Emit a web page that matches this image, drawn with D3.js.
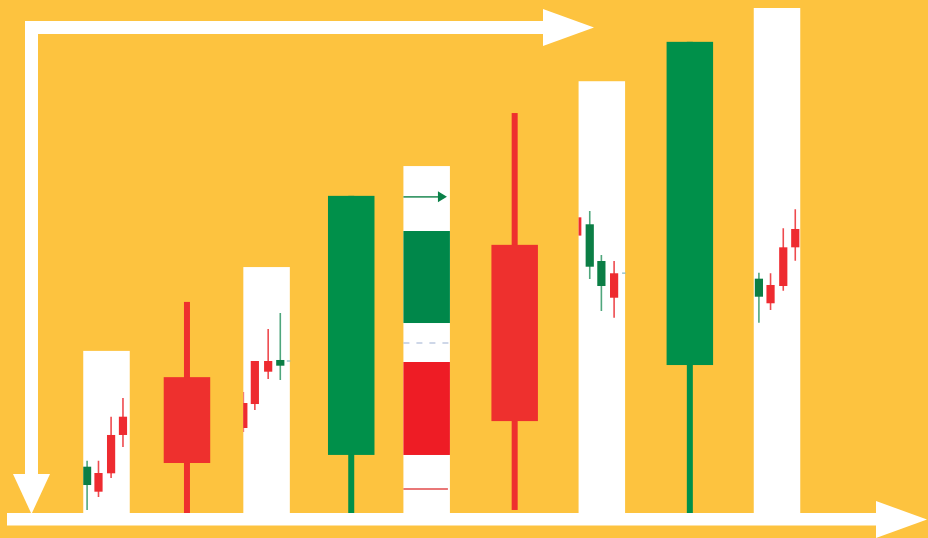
<!DOCTYPE html>
<html>
<head>
<meta charset="utf-8">
<script src="https://cdn.jsdelivr.net/npm/d3@7/dist/d3.min.js"></script>
<style>
  html, body { margin: 0; padding: 0; background: #FDC33F; }
  svg { display: block; }
</style>
</head>
<body>
<script>
// ---------- DATA ----------
// Big candles (period index on x, price units on y)
const candlePeriods = [0.96, 2.92, 4.87, 6.96];
const candleOpen    = [26.9, 11.5, 53.1, 29.3];
const candleClose   = [9.9, 62.8, 18.2, 93.3];
const candleHigh    = [41.8, 62.8, 79.2, 93.3];
const candleLow     = [0, 0, 0.6, 0];

// White "zoom windows"
const windowPeriods = [0, 1.91, 3.82, 5.91, 8];
const windowTops    = [32.1, 48.7, 68.7, 85.5, 100];

// Mini candles inside windows (window index, slot, open, close, high, low)
const miniWindow = [0, 0, 0, 0,   1, 1, 1, 1,   3, 3, 3, 3,   4, 4, 4, 4];
const miniSlot   = [0.32, 1.27, 2.32, 3.31,   0.0, 0.96, 2.07, 3.08,   -0.11, 0.93, 1.9, 2.96,   0.43, 1.4, 2.46, 3.46];
const miniOpen   = [5.54, 7.92, 15.45, 19.07,  21.78, 30.1, 30.1, 29.17,  58.55, 48.77, 44.95, 47.47,  42.83, 45.15, 52.61, 56.24];
const miniClose  = [9.17, 4.22, 7.86, 15.45,   16.83, 21.58, 27.98, 30.3,  54.93, 57.17, 49.9, 42.63,   46.4, 41.53, 44.95, 52.61];
const miniHigh   = [10.36, 10.36, 19.07, 22.77, 23.96, 30.1, 36.44, 39.6,  58.55, 59.8, 51.09, 49.9,    47.58, 47.47, 56.38, 60.14];
const miniLow    = [0.59, 3.17, 6.93, 13.07,   16.04, 20.4, 26.53, 26.34,  54.93, 46.34, 40.0, 38.67,   37.68, 40.2, 44.02, 49.96];

// Last-price markers in windows (window index, level)
const markerWindow = [1, 3];
const markerLevel  = [30.1, 47.5];

// Legend window (index 2) content levels
const legendArrowLevel = 62.6;
const legendUpZone     = [37.62, 55.84];
const legendMidLevel   = 33.66;
const legendDownZone   = [11.49, 29.9];
const legendLowLevel   = 4.75;

// ---------- STYLE ----------
const W = 928, H = 538;
const BG = "#FDC33F";
const UP = "#00904A", DOWN = "#EE302E";
const MINI_UP = "#0B7E45", MINI_DOWN = "#EE2B30";
const MINI_UP_WICK = "#4FA67C", MINI_DOWN_WICK = "#EE4A4E";

const svg = d3.select("body").append("svg")
  .attr("width", W).attr("height", H);

svg.append("rect").attr("width", W).attr("height", H).attr("fill", BG);

const x = d3.scaleLinear().domain([0, 8]).range([106.5, 777]);
const y = d3.scaleLinear().domain([0, 100]).range([513, 8]);
const barW = 46.5;
const mini = d3.scaleLinear().domain([0, 1]).range([0, 12]);
const miniW = 8.2;

// ---------- WINDOWS ----------
const defs = svg.append("defs");
windowPeriods.forEach((p, i) => {
  defs.append("clipPath").attr("id", "clip" + i)
    .append("rect")
    .attr("x", x(p) - barW / 2).attr("y", y(windowTops[i]))
    .attr("width", barW).attr("height", y(0) - y(windowTops[i]));
});

svg.append("g").selectAll("rect")
  .data(windowPeriods)
  .join("rect")
  .attr("x", d => x(d) - barW / 2)
  .attr("y", (d, i) => y(windowTops[i]))
  .attr("width", barW)
  .attr("height", (d, i) => y(0) - y(windowTops[i]))
  .attr("fill", "#FFFFFF");

// mini candles
const minis = miniWindow.map((w, i) => ({
  w, s: miniSlot[i], o: miniOpen[i], c: miniClose[i], h: miniHigh[i], l: miniLow[i]
}));
const miniG = svg.append("g");
minis.forEach(d => {
  const left = x(windowPeriods[d.w]) - barW / 2;
  const cx = left + mini(d.s);
  const up = d.c >= d.o;
  const g = miniG.append("g").attr("clip-path", `url(#clip${d.w})`);
  g.append("line")
    .attr("x1", cx).attr("x2", cx)
    .attr("y1", y(d.h)).attr("y2", y(d.l))
    .attr("stroke", up ? MINI_UP_WICK : MINI_DOWN_WICK)
    .attr("stroke-width", 1.6);
  g.append("rect")
    .attr("x", cx - miniW / 2)
    .attr("y", y(Math.max(d.o, d.c)))
    .attr("width", miniW)
    .attr("height", Math.max(1, y(Math.min(d.o, d.c)) - y(Math.max(d.o, d.c))))
    .attr("fill", up ? MINI_UP : MINI_DOWN);
});

// last price markers
markerWindow.forEach((w, i) => {
  const right = x(windowPeriods[w]) + barW / 2;
  svg.append("line")
    .attr("x1", right - 3).attr("x2", right + 0.5)
    .attr("y1", y(markerLevel[i])).attr("y2", y(markerLevel[i]))
    .attr("stroke", "#7FB7C4").attr("stroke-width", 1.2);
});

// legend window content
{
  const left = x(windowPeriods[2]) - barW / 2;
  const right = left + barW;
  const ay = y(legendArrowLevel);
  svg.append("line")
    .attr("x1", left).attr("x2", right - 10)
    .attr("y1", ay).attr("y2", ay)
    .attr("stroke", "#3E9A6B").attr("stroke-width", 1.6);
  svg.append("path")
    .attr("d", `M${right - 12},${ay - 5.5} L${right - 3},${ay} L${right - 12},${ay + 5.5} Z`)
    .attr("fill", "#0A8048");

  svg.append("rect")
    .attr("x", left).attr("width", barW)
    .attr("y", y(legendUpZone[1]))
    .attr("height", y(legendUpZone[0]) - y(legendUpZone[1]))
    .attr("fill", "#00874A");

  svg.append("line")
    .attr("x1", left).attr("x2", right)
    .attr("y1", y(legendMidLevel)).attr("y2", y(legendMidLevel))
    .attr("stroke", "#9DB0D2").attr("stroke-width", 1.2)
    .attr("stroke-dasharray", "6,7");

  svg.append("rect")
    .attr("x", left).attr("width", barW)
    .attr("y", y(legendDownZone[1]))
    .attr("height", y(legendDownZone[0]) - y(legendDownZone[1]))
    .attr("fill", "#EE1C25");

  svg.append("line")
    .attr("x1", left).attr("x2", right - 2)
    .attr("y1", y(legendLowLevel)).attr("y2", y(legendLowLevel))
    .attr("stroke", "#E24A4A").attr("stroke-width", 1.6);
}

// ---------- BIG CANDLES ----------
const candles = candlePeriods.map((p, i) => ({
  p, o: candleOpen[i], c: candleClose[i], h: candleHigh[i], l: candleLow[i]
}));
const cg = svg.append("g").selectAll("g").data(candles).join("g");
cg.append("rect")
  .attr("x", d => x(d.p) - 3)
  .attr("y", d => y(d.h))
  .attr("width", 6)
  .attr("height", d => y(d.l) - y(d.h))
  .attr("fill", d => d.c >= d.o ? UP : DOWN);
cg.append("rect")
  .attr("x", d => x(d.p) - barW / 2)
  .attr("y", d => y(Math.max(d.o, d.c)))
  .attr("width", barW)
  .attr("height", d => y(Math.min(d.o, d.c)) - y(Math.max(d.o, d.c)))
  .attr("fill", d => d.c >= d.o ? UP : DOWN);

// ---------- AXIS ARROWS ----------
const ax = svg.append("g").attr("fill", "#FFFFFF");
// top-left L arrow (vertical down + horizontal right)
ax.append("rect").attr("x", 25).attr("y", 21).attr("width", 13).attr("height", 455);
ax.append("path").attr("d", "M13,474 L50,474 L31.5,514 Z");
ax.append("rect").attr("x", 25).attr("y", 21).attr("width", 520).attr("height", 13);
ax.append("path").attr("d", "M543,9 L543,46 L594,27.5 Z");
// bottom arrow
ax.append("rect").attr("x", 7).attr("y", 513).attr("width", 871).attr("height", 12.5);
ax.append("path").attr("d", "M876,501 L876,538 L927,519.5 Z");
</script>
</body>
</html>
